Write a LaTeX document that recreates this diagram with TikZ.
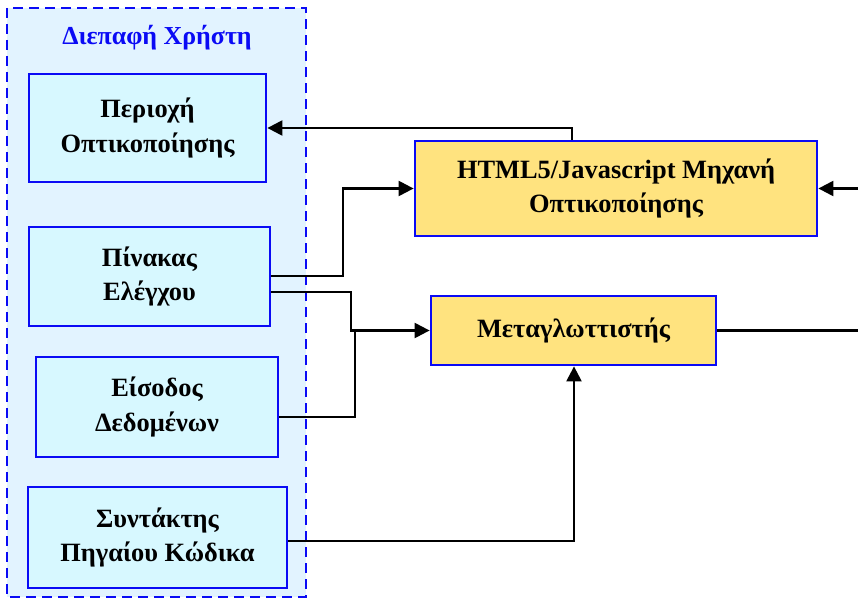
\documentclass[tikz,border=0pt]{standalone}
\usepackage{fontspec}
\setmainfont{Liberation Serif}
\usetikzlibrary{arrows.meta}
\definecolor{outerfill}{HTML}{E2F3FF}
\definecolor{boxfill}{HTML}{D7F8FF}
\definecolor{yel}{HTML}{FFE37F}
\definecolor{bblue}{HTML}{0A0AF5}
\begin{document}
\begin{tikzpicture}[x=1bp,y=-1bp,
  uibox/.style={draw=bblue,line width=2.8bp,fill=boxfill,align=center,inner sep=0pt,
    font=\fontsize{26.5}{35}\selectfont\bfseries},
  engbox/.style={uibox,fill=yel},
  conn/.style={draw=black,line width=2.3bp},
  arr/.style={conn,-{Triangle[length=15bp,width=15bp]}}]
\useasboundingbox (0,0) rectangle (858,598);
\fill[white] (0,0) rectangle (858,598);
\draw[draw=bblue,fill=outerfill,line width=2.5bp,dash pattern=on 10bp off 6bp] (7,8) rectangle (306,597);
\node[text=bblue,font=\fontsize{26}{30}\selectfont\bfseries] (title) at (157,38) {Διεπαφή Χρήστη};
\node[uibox,minimum width=237bp,minimum height=108bp] (vis) at (147.5,128) {Περιοχή\\Οπτικοποίησης};
\node[uibox,minimum width=241bp,minimum height=99bp] (ctrl) at (149.5,276.5) {Πίνακας\\Ελέγχου};
\node[uibox,minimum width=242bp,minimum height=100bp] (inp) at (157,407) {Είσοδος\\Δεδομένων};
\node[uibox,minimum width=259bp,minimum height=101bp] (edit) at (157.5,537.5) {Συντάκτης\\Πηγαίου Κώδικα};
\node[engbox,minimum width=402bp,minimum height=95bp] (html) at (616,188.5) {HTML5/Javascript Μηχανή\\Οπτικοποίησης};
\node[engbox,minimum width=285bp,minimum height=69bp] (comp) at (573.5,330.5) {Μεταγλωττιστής};
\coordinate (cA) at (572,128);
\coordinate (cB) at (343,276);
\coordinate (cC) at (351,292);
\coordinate (cD) at (355,417);
\coordinate (cE) at (574,541);
\coordinate (rTop) at (858,188.5);
\coordinate (rMid) at (858,330.5);
\draw[arr] (html.north -| cA) -- (cA) -- (vis.east |- cA);
\draw[arr] (ctrl.east |- cB) -- (cB) |- (html.west);
\draw[arr] (ctrl.east |- cC) -- (cC) |- (comp.west);
\draw[conn] (inp.east |- cD) -- (cD) -- (cD |- comp.west);
\draw[arr] (edit.east |- cE) -- (cE) -- (comp.south -| cE);
\draw[conn] (comp.east) -- (rMid);
\draw[arr] (rTop) -- (html.east);
\end{tikzpicture}
\end{document}
